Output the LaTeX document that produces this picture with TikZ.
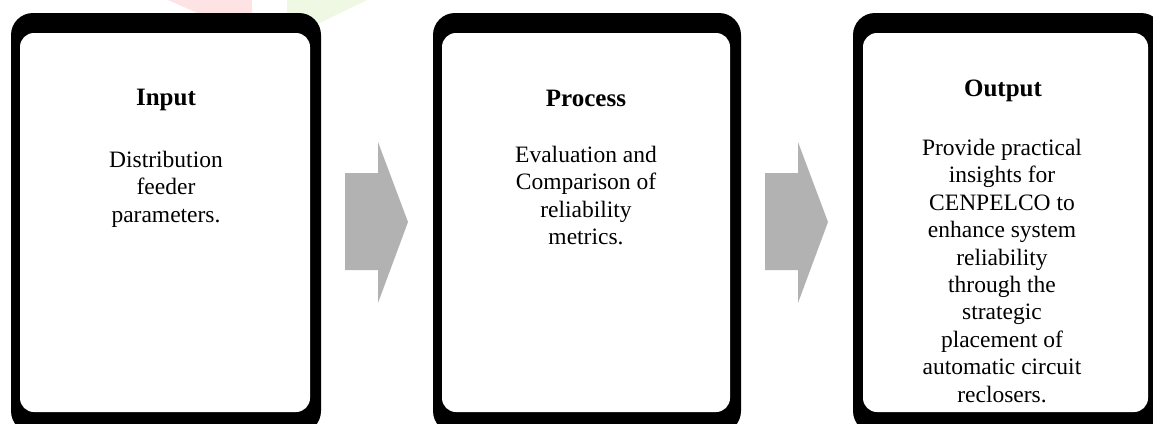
\documentclass[tikz,border=0pt]{standalone}
\usepackage{fontspec}
\setmainfont{Liberation Serif}
\definecolor{arrowgray}{HTML}{B2B2B2}
\definecolor{markpink}{HTML}{FDE3E3}
\definecolor{markgreen}{HTML}{EEF8E3}
\tikzset{
  frame/.style={fill=black, rounded corners=22pt, inner sep=0pt, outer sep=0pt, anchor=north west},
  pane/.style={fill=white, rounded corners=14pt, inner sep=0pt, outer sep=0pt, anchor=north west},
  heading/.style={font=\fontsize{25}{27}\selectfont\bfseries, inner sep=0pt, anchor=center},
  bodytext/.style={font=\fontsize{23.5}{27.4}\selectfont, align=center, inner sep=0pt, anchor=north},
  flow/.style={fill=arrowgray},
}
\begin{document}
\begin{tikzpicture}[x=1pt, y=-1pt]
  \useasboundingbox (0,0) rectangle (1153,423);
  \clip (0,0) rectangle (1153,423);

  % faint logo pieces behind the first box
  \fill[markpink] (168,0) -- (252,0) -- (252,16) -- (204,16) -- cycle;
  \fill[markgreen] (287,0) -- (367,0) -- (305,30) -- (287,30) -- cycle;

  % box frames (thick black rim) and their white panes
  \node[frame, minimum width=310pt, minimum height=420pt] (box1) at (11,13) {};
  \node[pane, minimum width=290pt, minimum height=379pt] (pane1) at (20,33) {};

  \node[frame, minimum width=308pt, minimum height=420pt] (box2) at (433,13) {};
  \node[pane, minimum width=288pt, minimum height=379pt] (pane2) at (442,33) {};

  \node[frame, minimum width=310pt, minimum height=420pt] (box3) at (853,13) {};
  \node[pane, minimum width=285pt, minimum height=379pt] (pane3) at (863,33) {};

  % block arrows between the stages
  \fill[flow] (345,173) -- (378,173) -- (378,142) -- (408,222) -- (378,303) -- (378,270) -- (345,270) -- cycle;
  \fill[flow] (765,173) -- (798,173) -- (798,142) -- (828,222) -- (798,303) -- (798,270) -- (765,270) -- cycle;

  % stage texts
  \node[heading] (head1) at (166,100) {Input};
  \node[bodytext] (text1) at (166,151) {Distribution\\feeder\\parameters.};

  \node[heading] (head2) at (586,98) {Process};
  \node[bodytext] (text2) at (586,146) {Evaluation and\\Comparison of\\reliability\\metrics.};

  \node[heading] (head3) at (1003,91) {Output};
  \node[bodytext] (text3) at (1002,139) {Provide practical\\insights for\\CENPELCO to\\enhance system\\reliability\\through the\\strategic\\placement of\\automatic circuit\\reclosers.};
\end{tikzpicture}
\end{document}
